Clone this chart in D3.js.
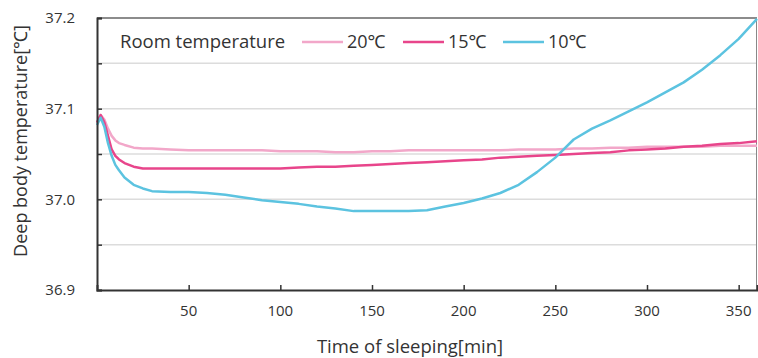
<!DOCTYPE html>
<html>
<head>
<meta charset="utf-8">
<script src="https://cdn.jsdelivr.net/npm/d3@7"></script>
<style>
  body { margin: 0; background: #fff; }
  text { font-family: "Open Sans", "Noto Sans", sans-serif; fill: #333; }
</style>
</head>
<body>
<script>
var width = 758,
    height = 358;

var margin = {top: 18, right: 1, bottom: 68, left: 97};

// sleeping time [min]
var times = [0, 2, 4, 6, 8, 10, 12, 15, 20, 25, 30, 40, 50, 60, 70, 80, 90, 100, 110, 120,
  130, 140, 150, 160, 170, 180, 190, 200, 210, 220, 230, 240, 250, 260, 270, 280, 290, 300,
  310, 320, 330, 340, 350, 360];

// deep body temperature per room temperature
var temp20 = [37.084, 37.093, 37.088, 37.078, 37.070, 37.065, 37.062, 37.060, 37.057, 37.056,
  37.056, 37.055, 37.054, 37.054, 37.054, 37.054, 37.054, 37.053, 37.053, 37.053, 37.052, 37.052,
  37.053, 37.053, 37.054, 37.054, 37.054, 37.054, 37.054, 37.054, 37.055, 37.055, 37.055, 37.056,
  37.056, 37.057, 37.057, 37.058, 37.058, 37.058, 37.058, 37.059, 37.059, 37.059];
var temp15 = [37.085, 37.093, 37.085, 37.070, 37.055, 37.048, 37.044, 37.040, 37.036, 37.034,
  37.034, 37.034, 37.034, 37.034, 37.034, 37.034, 37.034, 37.034, 37.035, 37.036, 37.036, 37.037,
  37.038, 37.039, 37.040, 37.041, 37.042, 37.043, 37.044, 37.046, 37.047, 37.048, 37.049, 37.050,
  37.051, 37.052, 37.054, 37.055, 37.056, 37.058, 37.059, 37.061, 37.062, 37.064];
var temp10 = [37.082, 37.090, 37.080, 37.062, 37.048, 37.038, 37.032, 37.024, 37.016, 37.012,
  37.009, 37.008, 37.008, 37.007, 37.005, 37.002, 36.999, 36.997, 36.995, 36.992, 36.990, 36.987,
  36.987, 36.987, 36.987, 36.988, 36.992, 36.996, 37.001, 37.007, 37.016, 37.030, 37.046, 37.066,
  37.078, 37.087, 37.097, 37.107, 37.118, 37.129, 37.143, 37.159, 37.177, 37.199];

var seriesNames = ["20℃", "15℃", "10℃"];
var seriesColors = ["#f2a7c9", "#e8458b", "#5cc3e0"];

var yTicks = [36.9, 36.95, 37.0, 37.05, 37.1, 37.15, 37.2];
var yLabels = [36.9, 37.0, 37.1, 37.2];
var xTicks = [50, 100, 150, 200, 250, 300, 350];

var series = [temp20, temp15, temp10].map(function(vals, i) {
  return {
    name: seriesNames[i],
    color: seriesColors[i],
    values: times.map(function(t, j) { return {t: t, v: vals[j]}; })
  };
});

var svg = d3.select("body").append("svg")
    .attr("width", width)
    .attr("height", height);

var x = d3.scaleLinear()
    .domain([0, 360])
    .range([margin.left, width - margin.right]);

var y = d3.scaleLinear()
    .domain([36.9, 37.2])
    .range([height - margin.bottom, margin.top]);

// grid lines
svg.append("g").selectAll("line")
    .data(yTicks.filter(function(d) { return d > 36.9 && d < 37.2; }))
  .enter().append("line")
    .attr("x1", x(0))
    .attr("x2", x(360))
    .attr("y1", function(d) { return y(d); })
    .attr("y2", function(d) { return y(d); })
    .attr("stroke", "#dcdcdc")
    .attr("stroke-width", 1.5);

// frame: top and right
svg.append("line")
    .attr("x1", x(0)).attr("x2", x(360))
    .attr("y1", y(37.2)).attr("y2", y(37.2))
    .attr("stroke", "#666").attr("stroke-width", 1.5);
svg.append("line")
    .attr("x1", x(360) - 0.5).attr("x2", x(360) - 0.5)
    .attr("y1", y(37.2)).attr("y2", y(36.9))
    .attr("stroke", "#888").attr("stroke-width", 1);

// lines
var line = d3.line()
    .x(function(d) { return x(d.t); })
    .y(function(d) { return y(d.v); });

svg.append("g").selectAll("path")
    .data(series)
  .enter().append("path")
    .attr("fill", "none")
    .attr("stroke", function(d) { return d.color; })
    .attr("stroke-width", 2.5)
    .attr("stroke-linejoin", "round")
    .attr("d", function(d) { return line(d.values); });

// y axis
var yAxis = d3.axisRight(y)
    .tickValues(yTicks)
    .tickSize(5)
    .tickFormat("");
var gy = svg.append("g")
    .attr("transform", "translate(" + x(0) + ",0)")
    .call(yAxis);
gy.select(".domain").attr("stroke", "#333").attr("stroke-width", 2);
gy.selectAll(".tick line").attr("stroke", "#333").attr("stroke-width", 1.5);

svg.append("g").selectAll("text")
    .data(yLabels)
  .enter().append("text")
    .attr("x", 75)
    .attr("y", function(d) { return y(d); })
    .attr("dy", "0.35em")
    .attr("text-anchor", "end")
    .style("font-size", "15px")
    .text(function(d) { return d.toFixed(1); });

// x axis
var xAxis = d3.axisTop(x)
    .tickValues(xTicks)
    .tickSize(5)
    .tickFormat("");
var gx = svg.append("g")
    .attr("transform", "translate(0," + y(36.9) + ")")
    .call(xAxis);
gx.select(".domain").attr("stroke", "#333").attr("stroke-width", 2);
gx.selectAll(".tick line").attr("stroke", "#333").attr("stroke-width", 1.5);

svg.append("g").selectAll("text")
    .data(xTicks)
  .enter().append("text")
    .attr("x", function(d) { return x(d); })
    .attr("y", y(36.9) + 21)
    .attr("dy", "0.35em")
    .attr("text-anchor", "middle")
    .style("font-size", "15px")
    .text(function(d) { return d; });

// axis titles
svg.append("text")
    .attr("x", 410)
    .attr("y", 353)
    .attr("text-anchor", "middle")
    .style("font-size", "18.5px")
    .text("Time of sleeping[min]");

svg.append("text")
    .attr("transform", "translate(27,141) rotate(-90)")
    .attr("text-anchor", "middle")
    .style("font-size", "18px")
    .text("Deep body temperature[℃]");

// legend
svg.append("text")
    .attr("x", 120)
    .attr("y", 42)
    .attr("dy", "0.35em")
    .style("font-size", "18.5px")
    .text("Room temperature");

var legendX = [302, 403, 503];
var leg = svg.append("g").selectAll("g")
    .data(series)
  .enter().append("g")
    .attr("transform", function(d, i) { return "translate(" + legendX[i] + ",42)"; });
leg.append("line")
    .attr("x1", 0).attr("x2", 41)
    .attr("stroke", function(d) { return d.color; })
    .attr("stroke-width", 2.5);
leg.append("text")
    .attr("x", 45)
    .attr("dy", "0.35em")
    .style("font-size", "18px")
    .text(function(d) { return d.name; });
</script>
</body>
</html>
